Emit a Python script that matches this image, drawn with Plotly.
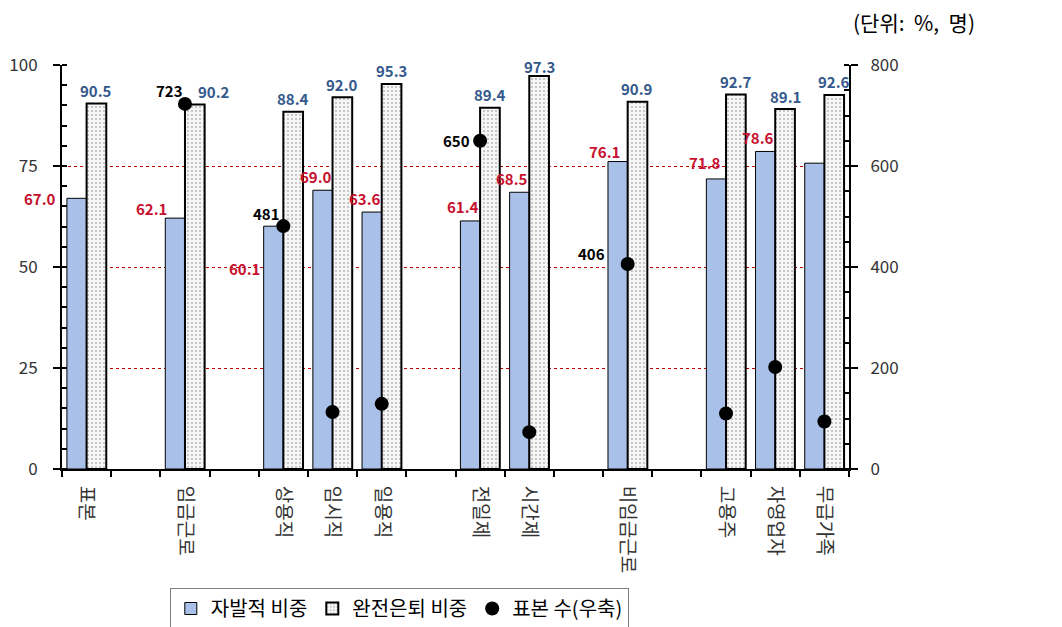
import plotly.graph_objects as go

# Category slots; blank-named slots separate the groups on the axis
categories = ["표본", " ", "임금근로", "  ", "상용직", "임시직", "일용직", "   ",
              "전일제", "시간제", "    ", "비임금근로", "     ", "고용주", "자영업자", "무급가족"]

voluntary = [67.0, None, 62.1, None, 60.1, 69.0, 63.6, None,
             61.4, 68.5, None, 76.1, None, 71.8, 78.6, 75.7]
voluntary_labeled = [True, False, True, False, True, True, True, False,
                     True, True, False, True, False, True, True, False]

retired = [90.5, None, 90.2, None, 88.4, 92.0, 95.3, None,
           89.4, 97.3, None, 90.9, None, 92.7, 89.1, 92.6]

sample = [None, None, 723, None, 481, 113, 129, None,
          650, 73, None, 406, None, 110, 202, 94]
sample_labeled = [False, False, True, False, True, False, False, False,
                  True, False, False, True, False, False, False, False]

FONT = "Noto Sans CJK KR"
RED = "#c8102e"
BLUE = "#34598c"

# Label nudges in pixels
# voluntary: (right edge relative to slot centre, text centre above value)
vol_nudge_default = (1, 14)
vol_nudge = {"표본": (-29, 0), "임금근로": (-16, 10), "상용직": (-21, -42),
             "비임금근로": (-6, 10), "고용주": (-3, 16)}
# retired: (text centre relative to bar centre, text centre above value)
ret_nudge_default = (0, 13)
ret_nudge = {"임금근로": (19, 13), "시간제": (0, 9)}
# sample counts: (right edge relative to slot centre, text centre above point)
sample_nudge = {"임금근로": (0, 13), "상용직": (-1, 13), "전일제": (-8, 0),
                "비임금근로": (-21, 10)}

fig = go.Figure()

fig.add_trace(go.Bar(
    name="자발적 비중", x=categories, y=voluntary,
    marker=dict(color="#a9c0e9", line=dict(color="black", width=1)),
    offsetgroup="a", hoverinfo="skip",
))

fig.add_trace(go.Bar(
    name="완전은퇴 비중", x=categories, y=retired,
    marker=dict(color="#f4f4f4", line=dict(color="black", width=2),
                pattern=dict(shape=".", fgcolor="#777777", bgcolor="#f6f6f6",
                             size=4, solidity=0.2)),
    offsetgroup="b", hoverinfo="skip",
))

fig.add_trace(go.Scatter(
    name="표본 수(우축)", x=categories, y=sample, yaxis="y2",
    mode="markers",
    marker=dict(color="black", size=14),
    cliponaxis=False, hoverinfo="skip",
))

# Red value labels beside the voluntary bars
for cat, v, show in zip(categories, voluntary, voluntary_labeled):
    if show and v is not None:
        dx, dy = vol_nudge.get(cat, vol_nudge_default)
        fig.add_annotation(
            x=cat, y=v, xref="x", yref="y", text=f"<b>{v:.1f}</b>",
            showarrow=False, xanchor="right", yanchor="middle",
            xshift=dx, yshift=dy,
            font=dict(family=FONT, size=15, color=RED),
        )

# Blue value labels above the retirement bars (bar centre is +0.2 slot)
slot_px = 787 / len(categories)
for cat, v in zip(categories, retired):
    if v is not None:
        dx, dy = ret_nudge.get(cat, ret_nudge_default)
        fig.add_annotation(
            x=cat, y=v, xref="x", yref="y", text=f"<b>{v:.1f}</b>",
            showarrow=False, xanchor="center", yanchor="middle",
            xshift=0.2 * slot_px + dx, yshift=dy,
            font=dict(family=FONT, size=15, color=BLUE),
        )

# Black labels for the headline sample counts
for cat, n, show in zip(categories, sample, sample_labeled):
    if show and n is not None:
        dx, dy = sample_nudge.get(cat, (0, 13))
        fig.add_annotation(
            x=cat, y=n, xref="x", yref="y2", text=f"<b>{n}</b>",
            showarrow=False, xanchor="right", yanchor="middle",
            xshift=dx, yshift=dy,
            font=dict(family=FONT, size=15, color="black"),
        )

fig.add_annotation(
    x=(977 - 62) / 787, y=(469 - 22) / 404, xref="paper", yref="paper",
    text="(단위:\u00a0\u00a0%,\u00a0\u00a0명)",
    showarrow=False, xanchor="right", yanchor="middle",
    font=dict(family=FONT, size=21, color="black"),
)

axis_font = dict(family=FONT, size=17, color="#333333")

fig.update_layout(
    width=1062, height=627,
    margin=dict(l=62, r=213, t=65, b=158, autoexpand=False),
    paper_bgcolor="white", plot_bgcolor="white",
    barmode="group", bargap=0.2, bargroupgap=0,
    font=dict(family=FONT, color="black"),
    showlegend=True,
    legend=dict(
        orientation="h", xref="container", yref="container",
        x=0.376, y=(627 - 588) / 627, xanchor="center", yanchor="top",
        bordercolor="#808080", borderwidth=1, bgcolor="white",
        font=dict(family=FONT, size=20, color="black"),
        itemwidth=30, tracegroupgap=0,
    ),
    xaxis=dict(
        type="category", categoryorder="array", categoryarray=categories,
        range=[-0.5, len(categories) - 0.5], automargin=False,
        tickson="boundaries", ticks="outside", ticklen=6, tickwidth=2,
        tickcolor="black", showline=True, linecolor="black", linewidth=2,
        showgrid=False, tickangle=90,
        tickfont=dict(family=FONT, size=19, color="#333333"),
        ticklabelstandoff=11,
    ),
    yaxis=dict(
        range=[0, 100], dtick=25, ticks="outside", ticklen=7, tickwidth=2,
        tickcolor="black", showline=True, linecolor="black", linewidth=2,
        showgrid=True, gridcolor="#c00000", gridwidth=1, griddash="3px,3px",
        zeroline=False, tickfont=axis_font, ticklabelstandoff=12,
        automargin=False,
        minor=dict(dtick=5, ticks="inside", ticklen=5, tickwidth=2,
                   tickcolor="black", showgrid=False),
    ),
    yaxis2=dict(
        range=[0, 800], dtick=200, overlaying="y", side="right",
        ticks="outside", ticklen=7, tickwidth=2, tickcolor="black",
        showline=True, linecolor="black", linewidth=2, showgrid=False,
        zeroline=False, tickfont=axis_font, ticklabelstandoff=9,
        automargin=False,
        minor=dict(dtick=50, ticks="inside", ticklen=5, tickwidth=2,
                   tickcolor="black", showgrid=False),
    ),
)

fig.write_html("out.html")
